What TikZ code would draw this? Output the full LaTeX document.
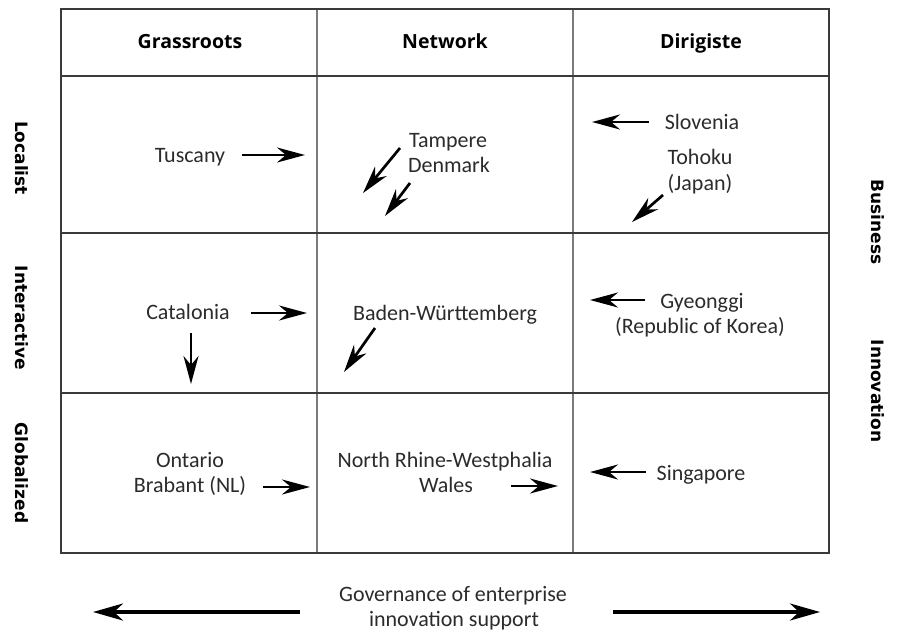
\documentclass[tikz,border=0pt]{standalone}
\usepackage{fontspec}
\setmainfont{Carlito}
\newfontfamily\headfont{Open Sans}
\newfontfamily\sidefont{DejaVu Sans}
\usetikzlibrary{arrows.meta}
\definecolor{txt}{HTML}{2B2B2B}
\definecolor{gridc}{HTML}{3A3A3A}
\definecolor{vgrid}{HTML}{7A7A7A}
\tikzset{
  gridline/.style={draw=gridc, line width=1.3pt},
  vline/.style={draw=vgrid, line width=1.6pt},
  body/.style={font=\fontsize{22}{24}\selectfont, text=txt, anchor=base, inner sep=0pt},
  head/.style={font=\headfont\bfseries\fontsize{19.5}{22}\selectfont, text=black, anchor=base, inner sep=0pt},
  side/.style={font=\sidefont\bfseries\fontsize{17}{20}\selectfont, text=black, rotate=-90, inner sep=0pt},
  mv/.style={line width=2.7pt, -{Stealth[length=28pt 0,width=15pt 0,inset=9pt 0]}},
  big/.style={line width=3.2pt, -{Stealth[length=30pt 0,width=17pt 0,inset=9pt 0]}}
}
\begin{document}
\begin{tikzpicture}[x=1pt,y=-1pt]
\useasboundingbox (0,0) rectangle (902,630);
% grid
\draw[vline] (317,9) -- (317,553);
\draw[vline] (573,9) -- (573,553);
\draw[gridline] (61,76) -- (829,76);
\draw[gridline] (61,233) -- (829,233);
\draw[gridline] (61,393) -- (829,393);
\draw[gridline] (61,9) rectangle (829,553);
% headers
\node[head] (hg) at (190,48) {Grassroots};
\node[head] (hn) at (445,48) {Network};
\node[head] (hd) at (701,48) {Dirigiste};
% side labels
\node[side] (sl) at (22,158) {Localist};
\node[side] (si) at (22,318) {Interactive};
\node[side] (sg) at (22,473) {Globalized};
\node[side] (sb) at (878,222) {Business};
\node[side] (sn) at (878,391) {Innovation};
% body texts
\node[body] (tus) at (190,162) {Tuscany};
\node[body] (tam) at (448,147) {Tampere};
\node[body] (den) at (449,172) {Denmark};
\node[body] (slo) at (702,129) {Slovenia};
\node[body] (toh) at (700,164) {Tohoku};
\node[body] (jap) at (700,190) {(Japan)};
\node[body] (cat) at (188,319) {Catalonia};
\node[body] (bad) at (445,320) {Baden-Württemberg};
\node[body] (gye) at (702,308) {Gyeonggi};
\node[body] (kor) at (700,333) {(Republic of Korea)};
\node[body] (ont) at (190,467) {Ontario};
\node[body] (bra) at (190,492) {Brabant (NL)};
\node[body] (nrw) at (445,467) {North Rhine-Westphalia};
\node[body] (wal) at (446,492) {Wales};
\node[body] (sin) at (701,480) {Singapore};
\node[body] (gov) at (453,601) {Governance of enterprise};
\node[body] (ins) at (454,626) {innovation support};
% arrow coordinates
\coordinate (a1s) at (242,155); \coordinate (a1e) at (305,155);
\coordinate (a2s) at (400,148); \coordinate (a2e) at (363,193);
\coordinate (a3s) at (410,183); \coordinate (a3e) at (385,216);
\coordinate (a4s) at (649,122); \coordinate (a4e) at (592,122);
\coordinate (a5s) at (663,195); \coordinate (a5e) at (632,222);
\coordinate (a6s) at (251,313); \coordinate (a6e) at (307,313);
\coordinate (a7s) at (191,333); \coordinate (a7e) at (191,384);
\coordinate (a8s) at (375,328); \coordinate (a8e) at (344,372);
\coordinate (a9s) at (645,300); \coordinate (a9e) at (590,300);
\coordinate (b1s) at (263,487); \coordinate (b1e) at (310,487);
\coordinate (b2s) at (511,486); \coordinate (b2e) at (558,486);
\coordinate (b3s) at (646,472); \coordinate (b3e) at (590,472);
\coordinate (gls) at (300,612); \coordinate (gle) at (93,612);
\coordinate (grs) at (613,612); \coordinate (gre) at (820,612);
\draw[mv] (a1s) -- (a1e);
\draw[mv] (a2s) -- (a2e);
\draw[mv] (a3s) -- (a3e);
\draw[mv] (a4s) -- (a4e);
\draw[mv] (a5s) -- (a5e);
\draw[mv] (a6s) -- (a6e);
\draw[mv] (a7s) -- (a7e);
\draw[mv] (a8s) -- (a8e);
\draw[mv] (a9s) -- (a9e);
\draw[mv] (b1s) -- (b1e);
\draw[mv] (b2s) -- (b2e);
\draw[mv] (b3s) -- (b3e);
\draw[big] (gls) -- (gle);
\draw[big] (grs) -- (gre);
\end{tikzpicture}
\end{document}
